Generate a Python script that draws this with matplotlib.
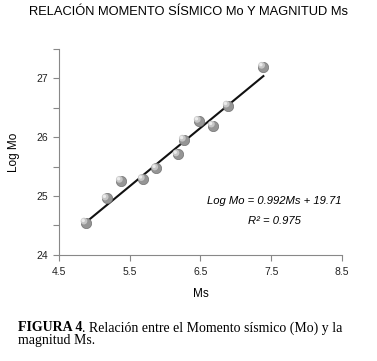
import matplotlib.pyplot as plt
import numpy as np
from matplotlib.ticker import MultipleLocator

plt.rcParams['font.family'] = ['Liberation Sans', 'DejaVu Sans']

# datos
ms = [4.88, 5.18, 5.38, 5.69, 5.88, 6.18, 6.27, 6.48, 6.68, 6.89, 7.39]
log_mo = [24.55, 24.96, 25.26, 25.29, 25.47, 25.71, 25.96, 26.28, 26.20, 26.54, 27.20]
pendiente, intercepto = 0.992, 19.71
x_ticks = [4.5, 5.5, 6.5, 7.5, 8.5]
y_ticks = [24, 25, 26, 27]

fig = plt.figure(figsize=(3.77, 3.61), dpi=100)
ax = fig.add_axes([0.156, 0.294, 0.751, 0.570])

# recta de ajuste
xr = np.array([min(ms), max(ms)])
ax.plot(xr, pendiente * xr + intercepto, color='#111111', lw=1.5, zorder=2)

# puntos con algo de brillo (arriba a la izquierda)
ax.scatter(ms, log_mo, s=55, c='#959595', edgecolors='#727272', linewidths=0.5, zorder=3)
ax.scatter(np.array(ms) - 0.025, np.array(log_mo) + 0.025, s=24, c='#cccccc', edgecolors='none', alpha=0.9, zorder=4)
ax.scatter(np.array(ms) - 0.035, np.array(log_mo) + 0.035, s=6, c='#ebebeb', edgecolors='none', zorder=5)

ax.set_xlim(4.5, 8.5)
ax.set_ylim(24, 27.5)
ax.set_xticks(x_ticks)
ax.set_yticks(y_ticks)
ax.yaxis.set_minor_locator(MultipleLocator(0.5))
for s in ['top', 'right']:
    ax.spines[s].set_visible(False)
for s in ['left', 'bottom']:
    ax.spines[s].set_color('#888888')
    ax.spines[s].set_linewidth(0.8)
ax.tick_params(which='both', colors='#888888', labelcolor='#222222', labelsize=7.5, length=4, width=0.8)
ax.tick_params(axis='x', pad=5)

ax.set_xlabel('Ms', fontsize=8.5, labelpad=8)
ax.set_ylabel('Log Mo', fontsize=8.5, labelpad=12)

ax.text(7.55, 24.92, 'Log Mo = 0.992Ms + 19.71', style='italic', fontsize=8.1, ha='center', va='center')
ax.text(7.55, 24.57, 'R² = 0.975', style='italic', fontsize=8.1, ha='center', va='center')

fig.text(0.5, 0.968, 'RELACIÓN MOMENTO SÍSMICO Mo Y MAGNITUD Ms', fontsize=9.3, ha='center', va='center')

# pie de figura
t1 = fig.text(0.048, 0.092, 'FIGURA 4', fontsize=10, family='Liberation Serif', weight='bold', va='center')
fig.canvas.draw()
bb = t1.get_window_extent()
fig.text(bb.x1 / fig.bbox.width, 0.092, '. Relación entre el Momento sísmico (Mo) y la', fontsize=10,
         family='Liberation Serif', va='center')
fig.text(0.048, 0.058, 'magnitud Ms.', fontsize=10, family='Liberation Serif', va='center')

fig.savefig('out.png', dpi=100)
